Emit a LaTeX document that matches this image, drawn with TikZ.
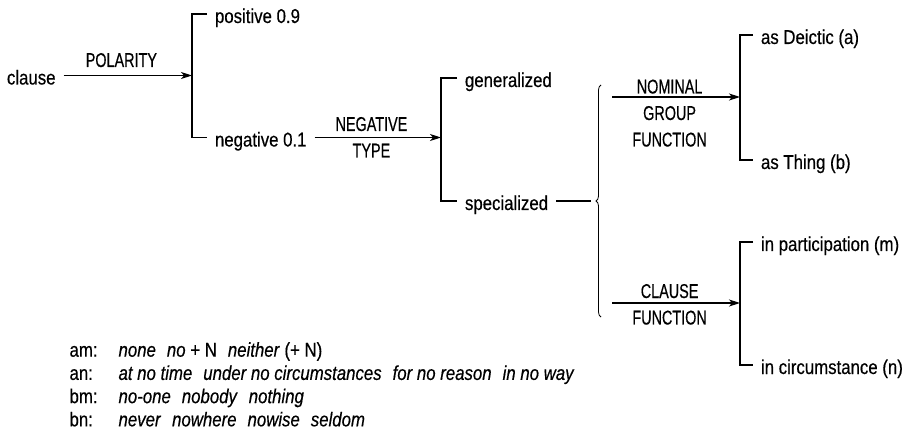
\documentclass[tikz,border=0pt]{standalone}
\usepackage{fontspec}
\setmainfont{Liberation Sans}[FakeStretch=0.84,FakeBold=0.4]
\newfontfamily\featfont{Liberation Sans}[FakeStretch=0.72,FakeBold=0.4]
\usetikzlibrary{arrows.meta,% stealth tips on the realization arrows
decorations.pathreplacing}% brace for the simultaneous systems
\tikzset{every node/.style={font=\fontsize{20}{26.5}\selectfont},
  term/.style={anchor=west, inner sep=2pt, outer sep=6pt,
    text height=21pt, text depth=3pt},
  % base = baseline of the last line of the label
  feat/.style={anchor=base, align=center, inner sep=0pt, pos=0.45,
    font=\fontsize{20}{26.5}\selectfont\featfont},
  arr/.style={-{Stealth[length=11pt,width=7pt,inset=3pt]}},
  key/.style={anchor=base west, inner sep=0pt}}
\newcommand{\sysbracket}[3]{\draw (#2.west) -| (#1) |- (#3.west);}
\newcommand{\gap}{\hspace{0.55em}}
\begin{document}
\begin{tikzpicture}[x=1pt,y=-1pt,line width=1.1pt]
  \useasboundingbox (0,0) rectangle (913,446);
  % polarity
  \node[term] (clause) at (-1,75.5) {clause};
  \coordinate (polarity) at (192,75.5);
  \node[term] (pos) at (207,14) {positive 0.9};
  \node[term] (neg) at (207,137.5) {negative 0.1};
  \draw[arr] (clause.east) -- node[feat,yshift=8.5pt]{POLARITY} (polarity);
  \sysbracket{polarity}{pos}{neg}
  % negative type
  \coordinate (negtype) at (441,137.5);
  \node[term] (gen) at (457,78) {generalized};
  \node[term] (spec) at (457,201) {specialized};
  \draw[arr] (neg.east) -- node[feat,yshift=-20pt]{NEGATIVE\\TYPE} (negtype);
  \sysbracket{negtype}{gen}{spec}
  % simultaneous systems
  \coordinate (simul) at (591,201);
  \draw (spec.east) -- (simul);
  \draw[line width=0.8pt,decorate,decoration={brace,amplitude=5pt}]
    (601,317) -- (601,85);
  \coordinate (ngstart) at (612,97);
  \coordinate (ngfunc) at (740,97);
  \coordinate (clstart) at (612,303);
  \coordinate (clfunc) at (740,303);
  \node[term] (deictic) at (753,35) {as Deictic (a)};
  \node[term] (thing) at (753,160) {as Thing (b)};
  \node[term] (partic) at (753,242) {in participation (m)};
  \node[term] (circ) at (753,365) {in circumstance (n)};
  \draw[arr] (ngstart) -- node[feat,yshift=-49.5pt]{NOMINAL\\GROUP\\FUNCTION} (ngfunc);
  \draw[arr] (clstart) -- node[feat,yshift=-21.5pt]{CLAUSE\\FUNCTION} (clfunc);
  \sysbracket{ngfunc}{deictic}{thing}
  \sysbracket{clfunc}{partic}{circ}
  % realization key
  \foreach \code/\words [count=\i] in
    {am/{\textit{none}\gap\textit{no} + N\gap\textit{neither} (+ N)},
     an/{\textit{at no time}\gap\textit{under no circumstances}\gap\textit{for no reason}\gap\textit{in no way}},
     bm/{\textit{no-one}\gap\textit{nobody}\gap\textit{nothing}},
     bn/{\textit{never}\gap\textit{nowhere}\gap\textit{nowise}\gap\textit{seldom}}}
  {
    \node[key] (code\i) at (69,{333.5+23.2*\i}) {\code:};
    \node[key] (words\i) at (118,{333.5+23.2*\i}) {\words};
  }
\end{tikzpicture}
\end{document}
